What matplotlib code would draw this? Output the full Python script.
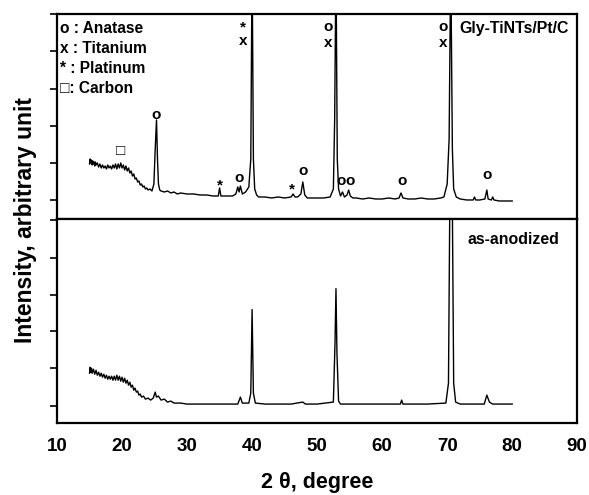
import matplotlib.pyplot as plt

plt.rcParams['font.family'] = ['Liberation Sans', 'DejaVu Sans']
plt.rcParams['font.weight'] = 'bold'

# Gly-TiNTs/Pt/C pattern (2theta, intensity in arbitrary units)
top_x = [15.0, 15.1, 15.2, 15.3, 15.4, 15.5, 15.6, 15.7, 15.8, 15.9, 16.0, 16.2, 16.4, 16.6, 16.8,
         17.0, 17.2, 17.4, 17.6, 17.8, 18.0, 18.2, 18.4, 18.6, 18.8, 19.0, 19.2, 19.4, 19.6, 19.8,
         20.0, 20.2, 20.4, 20.6, 20.8, 21.0, 21.2, 21.4, 21.6, 21.8, 22.0, 22.2, 22.4, 22.6, 22.8,
         23.0, 23.2, 23.4, 23.6, 23.8, 24.0, 24.3, 24.6, 24.9, 25.1, 25.3, 25.45, 25.6, 25.8, 26.0,
         26.5, 27.0, 27.5, 28.0, 28.5, 29.0, 30.0, 31.0, 32.0, 33.0, 34.0, 34.8, 35.0, 35.2, 36.0,
         37.0, 37.5, 37.8, 38.0, 38.2, 38.5, 39.0, 39.5, 39.8, 40.0, 40.2, 40.4, 40.7, 41.0, 42.0,
         43.0, 44.0, 45.0, 46.0, 46.3, 46.6, 47.0, 47.5, 47.8, 48.1, 48.5, 49.0, 50.0, 51.0, 52.0,
         52.5, 52.7, 52.9, 53.1, 53.3, 53.6, 53.9, 54.2, 54.6, 54.85, 55.1, 55.5, 56.0, 57.0, 58.0,
         59.0, 60.0, 61.0, 62.0, 62.6, 62.9, 63.2, 64.0, 65.0, 66.0, 67.0, 68.0, 69.0, 69.5, 70.0,
         70.3, 70.55, 70.8, 71.0, 71.4, 72.0, 73.0, 74.0, 74.2, 74.4, 75.0, 75.8, 76.1, 76.3, 76.8,
         77.0, 77.2, 78.0, 79.0, 80.0]
top_y = [55, 60, 56, 59, 54, 58, 55, 57, 53, 57, 54, 56, 52, 55, 51,
         54, 51, 53, 50, 54, 51, 53, 50, 54, 51, 55, 50, 55, 51, 56,
         51, 54, 49, 53, 48, 51, 46, 48, 43, 45, 40, 41, 37, 38, 34,
         35, 32, 33, 30, 31, 29, 30, 28, 35, 70, 99, 60, 35, 29, 28,
         27, 28, 26, 27, 25, 26, 25, 25, 24, 24, 23, 23, 31, 23, 23,
         23, 25, 32, 27, 33, 25, 27, 32, 60, 260, 60, 30, 24, 22, 22,
         21, 22, 21, 22, 25, 22, 22, 25, 37, 24, 21, 21, 21, 21, 22,
         30, 100, 260, 60, 30, 23, 27, 22, 24, 29, 23, 21, 21, 20, 21,
         20, 20, 21, 20, 21, 26, 21, 20, 20, 21, 20, 20, 21, 22, 35,
         80, 260, 70, 30, 22, 20, 19, 19, 22, 19, 19, 20, 29, 20, 19,
         22, 19, 18, 18, 18]

# as-anodized pattern
bot_x = [15.0, 15.1, 15.2, 15.3, 15.4, 15.6, 15.8, 16.0, 16.2, 16.4, 16.6, 16.8, 17.0, 17.2, 17.4,
         17.6, 17.8, 18.0, 18.2, 18.4, 18.6, 18.8, 19.0, 19.2, 19.4, 19.6, 19.8, 20.0, 20.2, 20.4,
         20.6, 20.8, 21.0, 21.2, 21.4, 21.6, 21.8, 22.0, 22.2, 22.4, 22.6, 22.8, 23.0, 23.3, 23.6,
         24.0, 24.4, 24.8, 25.1, 25.3, 25.6, 26.0, 26.5, 27.0, 27.5, 28.0, 29.0, 30.0, 32.0, 34.0,
         36.0, 37.8, 38.2, 38.5, 39.5, 39.8, 40.0, 40.2, 40.5, 42.0, 44.0, 46.0, 47.8, 48.2, 50.0,
         52.5, 52.75, 52.9, 53.05, 53.3, 53.6, 55.0, 57.0, 59.0, 61.0, 62.8, 63.0, 63.2, 65.0, 67.0,
         69.8, 70.2, 70.45, 70.75, 71.0, 71.3, 72.0, 74.0, 75.7, 76.1, 76.5, 77.0, 78.5, 80.0]
bot_y = [50, 56, 51, 55, 50, 54, 49, 53, 48, 51, 47, 50, 46, 49, 45,
         48, 44, 47, 44, 47, 43, 47, 43, 48, 43, 47, 42, 46, 41, 45,
         40, 43, 38, 41, 36, 38, 33, 35, 31, 32, 28, 29, 26, 27, 24,
         25, 23, 25, 31, 26, 27, 23, 24, 21, 22, 20, 20, 19, 19, 19,
         19, 19, 26, 20, 20, 30, 114, 30, 20, 19, 19, 19, 21, 19, 19,
         21, 80, 135, 70, 22, 19, 19, 19, 19, 19, 19, 23, 19, 19, 19,
         20, 40, 260, 260, 40, 21, 19, 19, 19, 28, 21, 19, 19, 19]

# phase markers in the top panel: (symbol, 2theta, height)
marks = [('o', 25.3, 104), ('\u25a1', 19.7, 68), ('*', 35.0, 34), ('o', 38.0, 41),
         ('*', 38.6, 192), ('x', 38.6, 178), ('*', 46.2, 30), ('o', 47.8, 48),
         ('o', 51.7, 192), ('x', 51.7, 176), ('o', 53.7, 38), ('o', 55.0, 38),
         ('o', 63.0, 38), ('o', 69.4, 192), ('x', 69.4, 176), ('o', 76.1, 44)]
legend_lines = ['o : Anatase', 'x : Titanium', '* : Platinum', '\u25a1: Carbon']
top_ticks = [19, 56, 93, 130, 168, 205]
bot_ticks = [17, 55, 92, 129, 166, 204]
x_ticks = [10, 20, 30, 40, 50, 60, 70, 80, 90]

fig = plt.figure(figsize=(5.89, 4.95), dpi=100)
ax1 = fig.add_axes([0.0968, 0.5576, 0.8832, 0.4141])
ax2 = fig.add_axes([0.0968, 0.1455, 0.8832, 0.4121], sharex=ax1)

ax1.plot(top_x, top_y, color='black', lw=1.0)
ax2.plot(bot_x, bot_y, color='black', lw=1.0)

for ax, ticks in ((ax1, top_ticks), (ax2, bot_ticks)):
    ax.set_ylim(0, 205)
    ax.set_yticks(ticks)
    ax.set_yticklabels([])
    ax.tick_params(axis='y', direction='out', length=5, width=1.2)
    for s in ax.spines.values():
        s.set_linewidth(1.6)

ax1.set_xlim(10, 90)
ax1.tick_params(axis='x', bottom=False, labelbottom=False)
ax2.set_xticks(x_ticks)
ax2.tick_params(axis='x', direction='in', length=0, labelsize=13.5, pad=11)
for lab in ax2.get_xticklabels():
    lab.set_fontweight('bold')

for sym, x, y in marks:
    ax1.text(x, y, sym, ha='center', va='center', fontsize=11, fontweight='bold')

for i, line in enumerate(legend_lines):
    ax1.text(0.006, 0.93 - i * 0.097, line, transform=ax1.transAxes, ha='left', va='center',
             fontsize=11.2, fontweight='bold')

ax1.text(0.983, 0.93, 'Gly-TiNTs/Pt/C', transform=ax1.transAxes, ha='right', va='center',
         fontsize=11.4, fontweight='bold')
ax2.text(0.965, 0.90, 'as-anodized', transform=ax2.transAxes, ha='right', va='center',
         fontsize=11.4, fontweight='bold')

ax2.set_xlabel('2 \u03b8, degree', fontsize=15.5, fontweight='bold', labelpad=12)
fig.text(0.043, 0.555, 'Intensity, arbitrary unit', rotation=90, ha='center', va='center',
         fontsize=16.5, fontweight='bold')

fig.savefig('out.png', dpi=100)
